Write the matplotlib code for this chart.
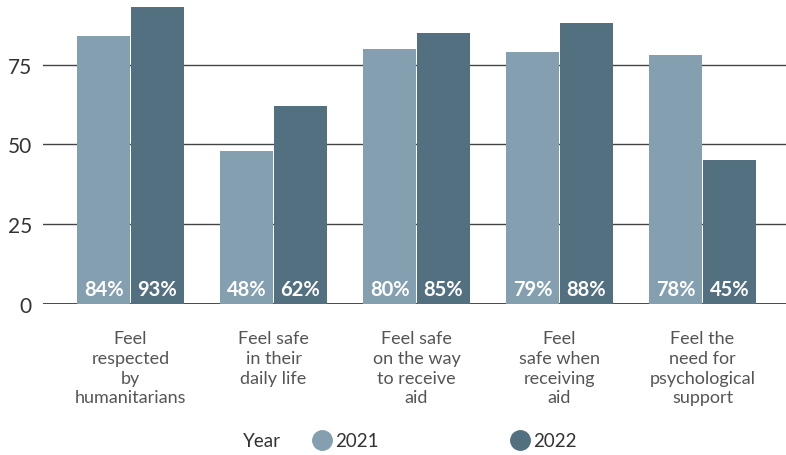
import matplotlib
matplotlib.use('Agg')
import matplotlib.pyplot as plt
import numpy as np
from matplotlib.lines import Line2D

plt.rcParams['font.family'] = ['Lato', 'DejaVu Sans']

categories = ['Feel\nrespected\nby\nhumanitarians',
              'Feel safe\nin their\ndaily life',
              'Feel safe\non the way\nto receive\naid',
              'Feel\nsafe when\nreceiving\naid',
              'Feel the\nneed for\npsychological\nsupport']
vals_2021 = [84, 48, 80, 79, 78]
vals_2022 = [93, 62, 85, 88, 45]
yticks = [0, 25, 50, 75]

c21 = '#839fb0'
c22 = '#537080'

fig = plt.figure(figsize=(7.86, 4.56), dpi=100)
ax = fig.add_axes([43 / 786, 151 / 456, 743 / 786, 305 / 456])

x = np.arange(len(categories))
w = 0.37
b1 = ax.bar(x - w / 2 - 0.003, vals_2021, w, color=c21, zorder=3)
b2 = ax.bar(x + w / 2 + 0.003, vals_2022, w, color=c22, zorder=3)

for bars, vals in [(b1, vals_2021), (b2, vals_2022)]:
    for rect, v in zip(bars, vals):
        ax.text(rect.get_x() + rect.get_width() / 2, 4.6, f'{v}%',
                ha='center', va='center', color='white', fontsize=14.5,
                fontweight='bold', zorder=4)

ax.set_xlim(-0.612, 4.584)
ax.set_ylim(0, 95.6)
ax.set_yticks(yticks)
ax.yaxis.grid(True, color='#444444', linewidth=1, zorder=0)
ax.tick_params(axis='y', length=0, labelsize=15, labelcolor='#333333', pad=8)
ax.set_xticks(x)
ax.set_xticklabels(categories, fontsize=13, color='#555555', linespacing=1.28)
ax.tick_params(axis='x', length=0, pad=19)
for s in ax.spines.values():
    s.set_visible(False)
ax.axhline(0, color='#333333', linewidth=1.2, zorder=2)

fig.text(243 / 786, 14 / 456, 'Year', fontsize=13.5, color='#333333', va='center')
handles = [Line2D([], [], marker='o', linestyle='none', markersize=14, color=c21, label='2021'),
           Line2D([], [], marker='o', linestyle='none', markersize=14, color=c22, label='2022')]
fig.legend(handles=handles, loc='center left', bbox_to_anchor=(294 / 786, 14 / 456),
           ncol=2, frameon=False, fontsize=13.5, handletextpad=0.1, columnspacing=6.9,
           handlelength=1.2, labelcolor='#333333')

fig.savefig('out.png', dpi=100)
